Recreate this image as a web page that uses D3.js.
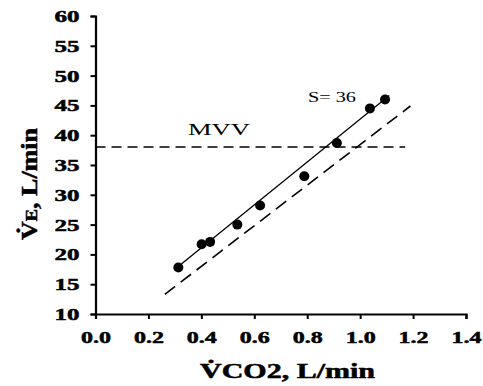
<!DOCTYPE html>
<html>
<head>
<meta charset="utf-8">
<script src="https://cdn.jsdelivr.net/npm/d3@7"></script>
<style>
  html, body { margin: 0; padding: 0; background: #fff; }
  svg { display: block; }
  text { font-family: "Liberation Serif", "Times New Roman", serif; fill: #000; }
  .heavy { stroke: #000; stroke-width: 0.5px; font-weight: bold; }
</style>
</head>
<body>
<script>
// Measured ventilation (VE) against CO2 output (VCO2)
const vco2 = [0.313, 0.401, 0.433, 0.536, 0.622, 0.789, 0.912, 1.037, 1.094];
const ve   = [17.8, 21.7, 22.1, 25.0, 28.2, 33.1, 38.7, 44.5, 46.0];

// Fitted regression: slope 36
const slope = 36;
const intercept = 6.7;
const fitRange = [0.30, 1.11];

// Reference (dashed) relation endpoints
const refX = [0.262, 1.19];
const refY = [13.3, 44.9];

// Maximal voluntary ventilation
const mvv = 38;
const mvvRange = [0, 1.17];

const xTicks = [0, 0.2, 0.4, 0.6, 0.8, 1.0, 1.2, 1.4];
const yTicks = [10, 15, 20, 25, 30, 35, 40, 45, 50, 55, 60];

const W = 483, H = 386;
const svg = d3.select("body").append("svg").attr("width", W).attr("height", H);

const x = d3.scaleLinear().domain([0, 1.4]).range([95.5, 466]);
const y = d3.scaleLinear().domain([10, 60]).range([314, 16]);

// Axes
const xAxis = svg.append("g")
  .attr("transform", `translate(0,${y(10)})`)
  .call(d3.axisBottom(x).tickValues(xTicks).tickSize(5).tickPadding(12)
        .tickFormat(d3.format(".1f")));
const yAxis = svg.append("g")
  .attr("transform", `translate(${x(0)},0)`)
  .call(d3.axisLeft(y).tickValues(yTicks).tickSize(5).tickPadding(11)
        .tickFormat(d3.format("d")));

[xAxis, yAxis].forEach(g => {
  g.select(".domain").attr("stroke", "#000").attr("stroke-width", 2.2);
  g.selectAll(".tick line").attr("stroke", "#000").attr("stroke-width", 2);
  g.selectAll(".tick text")
    .attr("class", "heavy")
    .attr("fill", "#000")
    .style("font-family", "'Liberation Serif', serif")
    .style("font-size", "17px")
    .attr("lengthAdjust", "spacingAndGlyphs");
});
xAxis.selectAll(".tick text").attr("textLength", 30).attr("dy", "0.71em");
yAxis.selectAll(".tick text").attr("textLength", 25);

// MVV line
svg.append("line")
  .attr("x1", x(mvvRange[0])).attr("x2", x(mvvRange[1]))
  .attr("y1", y(mvv)).attr("y2", y(mvv))
  .attr("stroke", "#000").attr("stroke-width", 1.5)
  .attr("stroke-dasharray", "10,6");

svg.append("text")
  .attr("x", 219).attr("y", 135)
  .attr("text-anchor", "middle")
  .attr("textLength", 62).attr("lengthAdjust", "spacingAndGlyphs")
  .style("font-size", "17px")
  .text("MVV");

// Reference dashed line
svg.append("line")
  .attr("x1", x(refX[0])).attr("y1", y(refY[0]))
  .attr("x2", x(refX[1])).attr("y2", y(refY[1]))
  .attr("stroke", "#000").attr("stroke-width", 1.6)
  .attr("stroke-dasharray", "13,7");

// Regression line
svg.append("line")
  .attr("x1", x(fitRange[0])).attr("y1", y(intercept + slope * fitRange[0]))
  .attr("x2", x(fitRange[1])).attr("y2", y(intercept + slope * fitRange[1]))
  .attr("stroke", "#000").attr("stroke-width", 1.3);

// Data points
svg.append("g").selectAll("circle")
  .data(vco2.map((v, i) => [v, ve[i]]))
  .join("circle")
  .attr("cx", d => x(d[0])).attr("cy", d => y(d[1]))
  .attr("r", 5).attr("fill", "#000");

// Slope label
svg.append("text")
  .attr("x", 332).attr("y", 101.5)
  .attr("text-anchor", "middle")
  .attr("textLength", 48).attr("lengthAdjust", "spacingAndGlyphs")
  .style("font-size", "15px")
  .text("S= " + slope);

// Axis titles
svg.append("text")
  .attr("class", "heavy")
  .attr("x", 287.5).attr("y", 378)
  .attr("text-anchor", "middle")
  .attr("textLength", 175).attr("lengthAdjust", "spacingAndGlyphs")
  .style("font-size", "20px")
  .text("V\u0307CO2, L/min");

const yt = svg.append("text")
  .attr("class", "heavy")
  .attr("transform", "translate(37,184) rotate(-90)")
  .attr("text-anchor", "middle")
  .attr("textLength", 112).attr("lengthAdjust", "spacingAndGlyphs")
  .style("font-size", "24px");
yt.append("tspan").text("V\u0307");
yt.append("tspan").style("font-size", "17px").text("E");
yt.append("tspan").text(", L/min");
</script>
</body>
</html>
